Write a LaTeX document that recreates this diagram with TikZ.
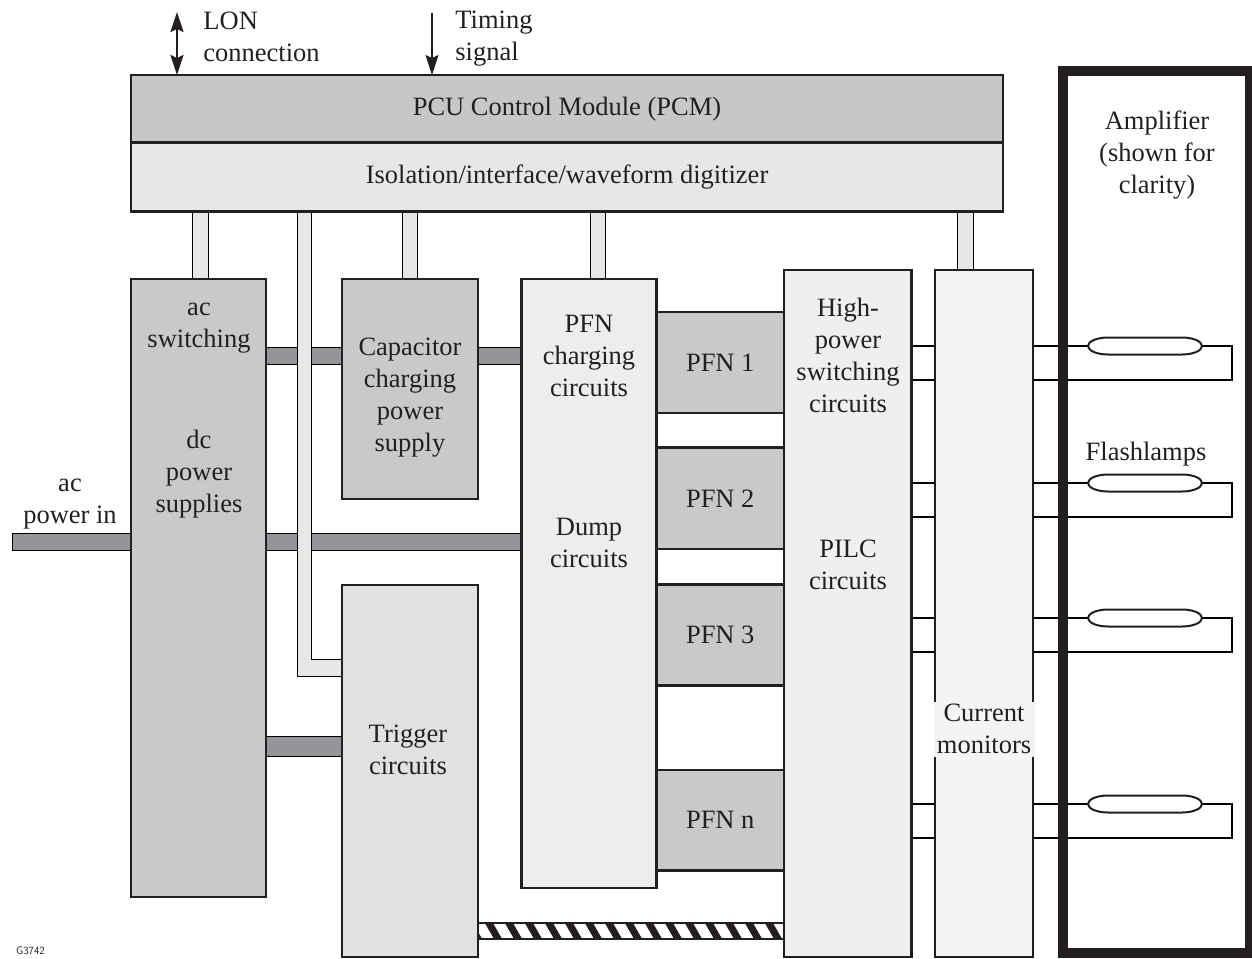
\documentclass[tikz,border=0pt]{standalone}
\usepackage{fontspec}
\setmainfont{Liberation Serif}
\usetikzlibrary{arrows.meta, positioning, backgrounds}

\definecolor{linec}{RGB}{35,31,32}
\definecolor{pcmgray}{RGB}{198,199,201}
\definecolor{isogray}{RGB}{230,231,232}
\definecolor{boxgray}{RGB}{200,201,203}
\definecolor{busgray}{RGB}{147,149,152}
\definecolor{triggray}{RGB}{224,225,227}
\definecolor{chggray}{RGB}{236,237,239}
\definecolor{pilcgray}{RGB}{238,239,240}
\definecolor{cmgray}{RGB}{243,245,244}
\definecolor{pipegray}{RGB}{230,231,232}

\begin{document}
\begin{tikzpicture}[
    x=1pt, y=-1pt,
    color=linec,
    line width=2.2pt,
    >={Stealth[length=20pt, width=13pt, inset=3pt]},
    txt/.style={font=\fontsize{26.5}{32}\selectfont, align=center},
    blk/.style={draw, anchor=north west, inner sep=0pt, outer sep=0pt, txt},
    busbar/.style={fill=busgray},
    pipefill/.style={fill=pipegray},
    lampbox/.style={minimum width=114pt, minimum height=17pt, inner sep=0pt, outer sep=0pt},
    wire/.style={line width=2pt},
]
\useasboundingbox (0,0) rectangle (1252,958);
% ============================================================
% Control module on top
% ============================================================
\node[blk, fill=pcmgray, minimum width=872, minimum height=67.5] (pcm) at (131,75) {PCU Control Module (PCM)};
\node[blk, fill=isogray, minimum width=872, minimum height=69] (iso) at (131,142.5) {Isolation/interface/waveform digitizer};
\coordinate (lontop) at (177,12);
\coordinate (timtop) at (432,13);
\draw[<->, line width=2pt] (lontop) -- (pcm.north -| lontop);
\draw[->, line width=1.5pt] (timtop) -- (pcm.north -| timtop);
\node[txt, anchor=west, align=left] (lonlbl) at (199,37) {LON\\connection};
\node[txt, anchor=west, align=left] (timlbl) at (451,39) {Timing\\signal};
% ============================================================
% Blocks
% ============================================================
\node[blk, fill=boxgray, minimum width=135, minimum height=618] (acps) at (131,279) {};
\node[blk, fill=boxgray, minimum width=136, minimum height=220] (cap) at (342,279) {};
\node[blk, fill=triggray, minimum width=136, minimum height=372] (trig) at (342,585) {};
\node[blk, fill=chggray, minimum width=135, minimum height=609] (chg) at (521.5,279) {};
\node[blk, fill=pilcgray, minimum width=127.5, minimum height=687] (pilc) at (784,270) {};
\node[blk, fill=cmgray, minimum width=98, minimum height=687] (cm) at (935,270) {};
% --- pulse forming networks ---
\node[blk, fill=boxgray, minimum width=127.5, minimum height=101] (pfn1) at (656.5,312) {PFN 1};
\node[blk, fill=boxgray, minimum width=127.5, minimum height=101.5] (pfn2) at (656.5,447.5) {PFN 2};
\node[blk, fill=boxgray, minimum width=127.5, minimum height=101] (pfn3) at (656.5,584.5) {PFN 3};
\node[blk, fill=boxgray, minimum width=127.5, minimum height=100.5] (pfnn) at (656.5,770) {PFN n};
% --- amplifier and flashlamps ---
\node[draw, line width=10pt, anchor=north west, minimum width=187, minimum height=882, inner sep=0pt, outer sep=0pt] (amp) at (1063,71) {};
\foreach \i/\ya in {1/346, 2/483, 3/618, 4/804} {
    \node[lampbox] (lamp\i) at (1145,\ya) {};
    \draw[fill=white, line width=2pt] (lamp\i.west) .. controls +(0,-4.7) and +(-11,0) .. ++(20,-8.5) -- ++(74,0)
        .. controls +(11,0) and +(0,-4.7) .. ++(20,8.5) .. controls +(0,4.7) and +(11,0) .. ++(-20,8.5)
        -- ++(-74,0) .. controls +(-11,0) and +(0,4.7) .. (lamp\i.west) -- cycle;
}
% --- block texts ---
\node[txt] (acsw) at (199,328) {ac\\switching};
\node[txt] (dcps) at (199,474) {dc\\power\\supplies};
\node[txt] (acinlbl) at (70,504) {ac\\power in};
\node[txt] (caplbl) at (410,398) {Capacitor\\charging\\power\\supply};
\node[txt] (chglbl) at (589,356) {PFN\\charging\\circuits};
\node[txt] (dumplbl) at (589,543) {Dump\\circuits};
\node[txt] (swlbl) at (848,355) {High-\\power\\switching\\circuits};
\node[txt] (pilclbl) at (848,565) {PILC\\circuits};
\node[txt] (triglbl) at (408,750) {Trigger\\circuits};
\node[txt, fill=cmgray, minimum width=101, minimum height=55, inner sep=0pt] (cmlbl) at (984,729) {Current\\monitors};
\node[txt] (amplbl) at (1157,155) {Amplifier\\(shown for\\clarity)};
\node[txt] (flbl) at (1146,454) {Flashlamps};
\node[font=\sffamily\fontsize{11}{13}\selectfont, anchor=south west, inner sep=0pt] (fignum) at (15,956) {G3742};
% ============================================================
% Hatched bar trigger -> switching
% ============================================================
\begin{scope}
    \clip (trig.east |- 0,923) rectangle (pilc.west |- 0,939);
    \foreach \x in {466,486,...,790} {
        \draw[line width=7pt] (\x,918) -- ++(15,26);
    }
\end{scope}
\draw (trig.east |- 0,923) rectangle (pilc.west |- 0,939);
% ============================================================
% Bus bars, pipes and lamp wires (behind the blocks)
% ============================================================
\begin{scope}[on background layer]
    \coordinate (acin) at (12,541.5);
    \filldraw[busbar] (acin |- 0,533) rectangle (acps.west |- 0,550);
    \filldraw[busbar] (acps.east |- 0,347) rectangle (cap.west |- 0,364);
    \filldraw[busbar] (cap.east |- 0,347) rectangle (chg.west |- 0,364);
    \filldraw[busbar] (acps.east |- 0,533) rectangle (chg.west |- 0,550);
    \filldraw[busbar] (acps.east |- 0,736) rectangle (trig.west |- 0,756);
    % pipes from the digitizer
    \filldraw[pipefill] (iso.south -| 192,0) rectangle (acps.north -| 208,0);
    \filldraw[pipefill] (iso.south -| 402,0) rectangle (cap.north -| 417,0);
    \filldraw[pipefill] (iso.south -| 590,0) rectangle (chg.north -| 605,0);
    \filldraw[pipefill] (iso.south -| 957,0) rectangle (cm.north -| 973,0);
    \filldraw[pipefill] (iso.south -| 297,0) |- (trig.west |- 0,676) -- (trig.west |- 0,659) -| (iso.south -| 311,0) -- cycle;
    % lamp circuits
    \foreach \i/\ya/\yb in {1/346/380, 2/483/517, 3/618/652, 4/804/838} {
        \draw[wire] (pilc.east |- 0,\ya) -- (lamp\i.west);
        \draw[wire] (lamp\i.east) -- ++(30,0) |- (pilc.east |- 0,\yb);
    }
\end{scope}
\end{tikzpicture}
\end{document}
